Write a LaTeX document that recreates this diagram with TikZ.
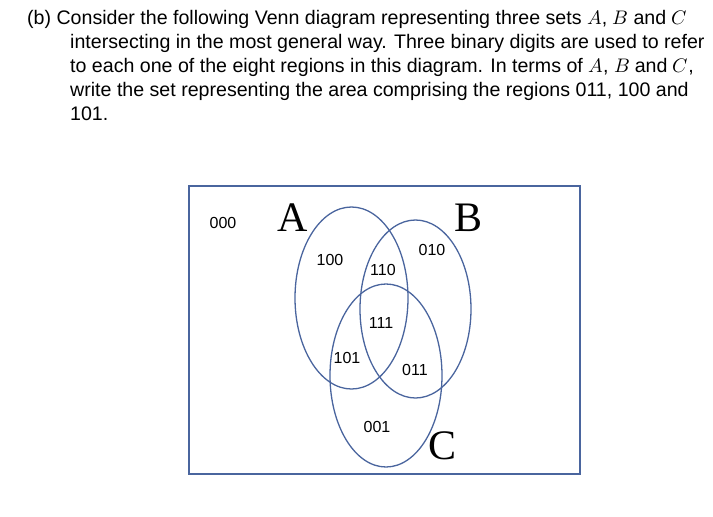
\documentclass[tikz,border=0pt]{standalone}
\usepackage{fontspec}
\setmainfont{Liberation Sans}
\newfontfamily\serifA{Liberation Serif}
\usepackage{unicode-math}
\setmathfont{Latin Modern Math}
\definecolor{venn}{HTML}{4A659E}
\begin{document}
\begin{tikzpicture}[x=1pt,y=-1pt,
  para/.style={anchor=base west,inner sep=0pt,font=\fontsize{19.6}{22}\selectfont},
  reg/.style={font=\fontsize{16}{18}\selectfont,inner sep=0pt},
  setl/.style={font=\serifA\fontsize{42}{42}\selectfont,inner sep=0pt},
  vline/.style={draw=venn,line width=1.3pt}]
\useasboundingbox (0,0) rectangle (713,517);
\node[para] (l1) at (27,24) {(b) Consider the following Venn diagram representing three sets $A$, $B$ and $C$};
\node[para] (l2) at (70,48) {intersecting in the most general way. Three binary digits are used to refer};
\node[para] (l3) at (70,72) {to each one of the eight regions in this diagram. In terms of $A$, $B$ and $C$,};
\node[para] (l4) at (70,96) {write the set representing the area comprising the regions 011, 100 and};
\node[para] (l5) at (70,120) {101.};
\draw[vline] (189,186) rectangle (580,474);
\draw[vline] (351.5,298) ellipse [x radius=56.5,y radius=91];
\draw[vline] (415.5,309) ellipse [x radius=55.5,y radius=89];
\draw[vline] (386,375.5) ellipse [x radius=56,y radius=91.5];
\node[reg] (r000) at (223,223) {000};
\node[reg] (r100) at (330,260) {100};
\node[reg] (r110) at (383,270) {110};
\node[reg] (r010) at (432,250) {010};
\node[reg] (r111) at (381,323) {111};
\node[reg] (r101) at (347,358) {101};
\node[reg] (r011) at (415,370) {011};
\node[reg] (r001) at (377,427) {001};
\node[setl] (A) at (293,218) {A};
\node[setl] (B) at (469,218) {B};
\node[setl] (C) at (443,446) {C};
\end{tikzpicture}
\end{document}
